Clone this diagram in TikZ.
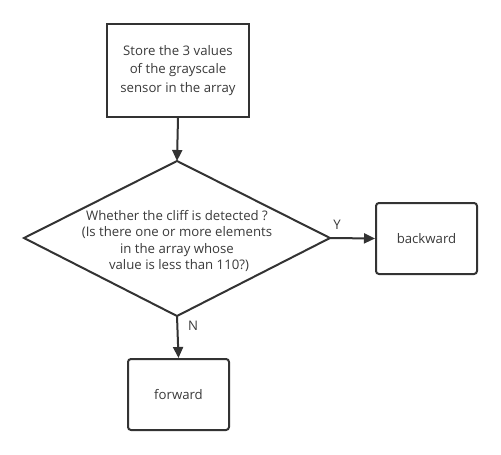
\documentclass[tikz,border=0pt]{standalone}
\usepackage{fontspec}
\setmainfont{Open Sans}
\usetikzlibrary{arrows.meta,shapes.geometric}
\definecolor{ln}{HTML}{333333}
\definecolor{tx}{HTML}{3a3a3a}
\begin{document}
\begin{tikzpicture}[x=1pt,y=-1pt,
  every node/.style={text=tx,font=\fontsize{13.2}{18.5}\selectfont},
  procbox/.style={draw=ln,line width=2pt,minimum width=142pt,minimum height=93pt,align=center,inner sep=0pt},
  roundbox/.style={draw=ln,line width=2pt,rounded corners=3pt,minimum width=101pt,minimum height=71pt,inner sep=0pt},
  link/.style={draw=ln,line width=2pt,-{Triangle[length=11pt,width=10pt]}},
  lbl/.style={inner sep=0pt}]
\useasboundingbox (0,0) rectangle (501,455);
\node[procbox] (store) at (178,70.5) {Store the 3 values\\of the grayscale\\sensor in the array};
\coordinate (dt) at (177,161);
\coordinate (dl) at (24,238);
\coordinate (dr) at (330,238);
\coordinate (db) at (177,316);
\draw[ln,line width=2pt,line join=miter] (dt) -- (dr) -- (db) -- (dl) -- cycle;
\node[align=center,inner sep=0pt,font=\fontsize{13.2}{16.2}\selectfont] (q) at (177,241) {Whether the cliff is detected ?\\(Is there one or more elements\\in the array whose\hspace*{4pt}\\\hspace*{4pt}value is less than 110?)};
\node[roundbox] (back) at (426.5,238.5) {backward};
\node[roundbox] (fwd) at (178.5,394.5) {forward};
\draw[link] (store.south) -- (dt);
\draw[link] (dr) -- (back.west);
\draw[link] (db) -- (fwd.north);
\node[lbl] (y) at (337,225) {Y};
\node[lbl] (n) at (193,326) {N};
\end{tikzpicture}
\end{document}
